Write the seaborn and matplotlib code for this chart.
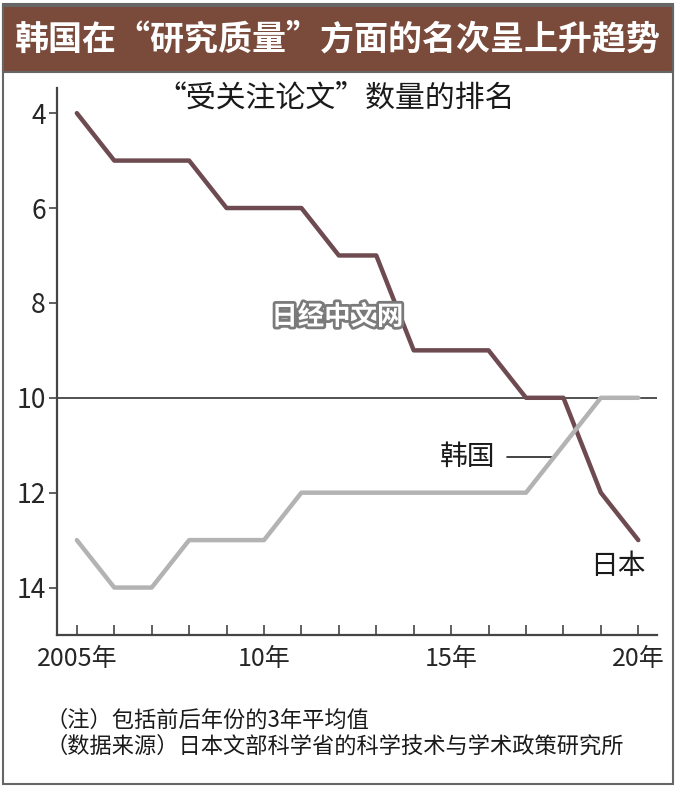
import pandas as pd
import matplotlib.pyplot as plt
import matplotlib.patheffects as pe
from matplotlib.patches import Rectangle
import seaborn as sns

years = list(range(2005, 2021))
japan_rank = [4, 5, 5, 5, 6, 6, 6, 7, 7, 9, 9, 9, 10, 10, 12, 13]
korea_rank = [13, 14, 14, 13, 13, 13, 12, 12, 12, 12, 12, 12, 12, 11, 10, 10]
y_ticks = [4, 6, 8, 10, 12, 14]
x_ticks = [2005, 2010, 2015, 2020]
x_labels = ["2005年", "10年", "15年", "20年"]

title = "韩国在“研究质量”方面的名次呈上升趋势"
subtitle = "“受关注论文”数量的排名"
notes = ["（注）包括前后年份的3年平均值",
         "（数据来源）日本文部科学省的科学技术与学术政策研究所"]

sns.set_style("white")
plt.rcParams["font.family"] = ["Noto Sans CJK SC", "DejaVu Sans"]

df = pd.DataFrame({
    "year": years * 2,
    "rank": japan_rank + korea_rank,
    "country": ["日本"] * len(years) + ["韩国"] * len(years),
})
colors = {"日本": "#6e4b50", "韩国": "#b3b3b3"}

fig = plt.figure(figsize=(6.76, 7.88), dpi=100)
ax = fig.add_axes([57 / 676, 1 - 635 / 788, 600 / 676, 547 / 788])

ax.axhline(10, color="#222222", lw=1.1, zorder=1)
sns.lineplot(data=df, x="year", y="rank", hue="country", palette=colors,
             lw=3.2, legend=False, ax=ax, zorder=3)

ax.set_xlim(2004.47, 2020.5)
ax.set_ylim(15.0, 3.47)
ax.set_yticks(y_ticks)
ax.set_xticks(years)
ax.set_xticklabels([x_labels[x_ticks.index(y)] if y in x_ticks else "" for y in years])
ax.set_xlabel("")
ax.set_ylabel("")
for s in ["top", "right"]:
    ax.spines[s].set_visible(False)
for s in ["left", "bottom"]:
    ax.spines[s].set_color("#444444")
    ax.spines[s].set_linewidth(1.6)
ax.tick_params(axis="y", direction="out", length=6, width=1.2, color="#444444",
               labelsize=19, pad=2, left=True)
ax.tick_params(axis="x", direction="in", length=7, width=1.2, color="#444444",
               labelsize=18, pad=8, bottom=True)

fig.text(336 / 676, 1 - 98 / 788, subtitle, ha="center", va="center",
         fontsize=21.5, color="#1a1a1a")
ax.text(2015.45, 11.25, "韩国", ha="center", va="center", fontsize=20, color="#1a1a1a")
ax.plot([2016.5, 2017.7], [11.25, 11.25], color="#222222", lw=1.2)
ax.text(2019.45, 13.55, "日本", ha="center", va="center", fontsize=20, color="#1a1a1a")

wm = ax.text(2011.96, 8.3, "日经中文网", ha="center", va="center", fontsize=19,
             color="white", fontweight="bold", zorder=5)
wm.set_path_effects([pe.withStroke(linewidth=4, foreground="#7a7a7a")])

# frame and title bar
fig.patches.append(Rectangle((3 / 676, 4 / 788), 670 / 676, 780 / 788,
                             transform=fig.transFigure, fill=False,
                             edgecolor="#666666", lw=1.5))
fig.patches.append(Rectangle((3 / 676, 1 - 72 / 788), 670 / 676, 66 / 788,
                             transform=fig.transFigure, facecolor="#7a4a3b",
                             edgecolor="#666666", lw=1.5))
fig.text(0.5, 1 - 39 / 788, title, ha="center", va="center", fontsize=24.5,
         color="white", fontweight="bold")

fig.text(45 / 676, 1 - 720 / 788, notes[0], ha="left", va="center", fontsize=16,
         color="#1a1a1a")
fig.text(45 / 676, 1 - 746 / 788, notes[1], ha="left", va="center", fontsize=16,
         color="#1a1a1a")

fig.savefig("out.png", dpi=100)
